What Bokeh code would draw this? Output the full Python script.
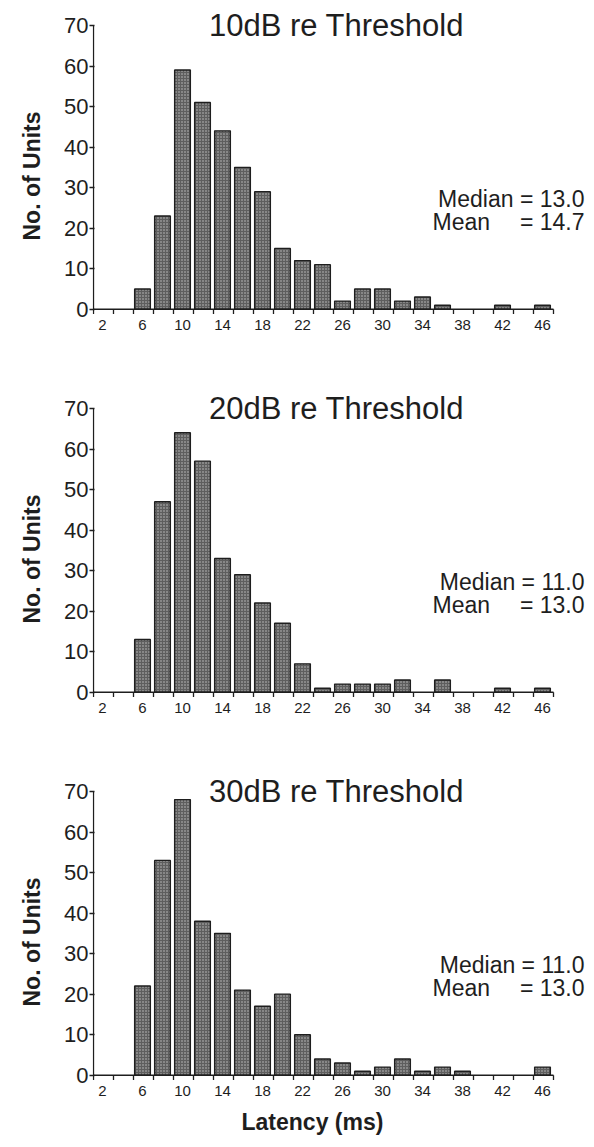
from bokeh.plotting import figure
from bokeh.models import FixedTicker, Label, Range1d, Title
from bokeh.layouts import column
from bokeh.embed import file_html
from bokeh.resources import INLINE

# ---- data ----
latency_bins = [2, 4, 6, 8, 10, 12, 14, 16, 18, 20, 22, 24, 26, 28, 30, 32, 34, 36, 38, 40, 42, 44, 46]
units_10db = [0, 0, 5, 23, 59, 51, 44, 35, 29, 15, 12, 11, 2, 5, 5, 2, 3, 1, 0, 0, 1, 0, 1]
units_20db = [0, 0, 13, 47, 64, 57, 33, 29, 22, 17, 7, 1, 2, 2, 2, 3, 0, 3, 0, 0, 1, 0, 1]
units_30db = [0, 0, 22, 53, 68, 38, 35, 21, 17, 20, 10, 4, 3, 1, 2, 4, 1, 2, 1, 0, 0, 0, 2]
titles = ["10dB re Threshold", "20dB re Threshold", "30dB re Threshold"]
medians = ["13.0", "11.0", "11.0"]
means = ["14.7", "13.0", "13.0"]
x_tick_labels = [2, 6, 10, 14, 18, 22, 26, 30, 34, 38, 42, 46]
y_ticks = [0, 10, 20, 30, 40, 50, 60, 70]

FONT = "Liberation Sans"
INK = "#1e1e1e"

series = [units_10db, units_20db, units_30db]
edge_offset = 1.1
edges = [latency_bins[0] - 0.9] + [b + edge_offset for b in latency_bins]

figs = []
for i, (vals, title, med, mn) in enumerate(zip(series, titles, medians, means)):
    last = i == 2
    p = figure(frame_width=497, frame_height=302, output_backend="svg", toolbar_location=None,
               x_range=Range1d(edges[0] - 0.1, 50.7), y_range=Range1d(-1.3, 73.2),
               min_border_left=91, min_border_right=6, min_border_top=12,
               min_border_bottom=67 if last else 69)
    p.outline_line_color = None
    p.xgrid.visible = False
    p.ygrid.visible = False
    p.background_fill_color = "white"
    p.border_fill_color = "white"

    xs = [b for b, v in zip(latency_bins, vals) if v > 0]
    ys = [v for v in vals if v > 0]
    p.vbar(x=xs, top=ys, bottom=0, width=1.57, fill_color="#5e5e5e",
           line_color=INK, line_width=1.4,
           hatch_pattern="dot", hatch_color="#c4c4c4", hatch_scale=3.0, hatch_weight=1.2)

    # axis lines and bin-edge ticks
    p.line(x=[edges[0], edges[-1]], y=[0, 0], line_color=INK, line_width=1.3)
    p.line(x=[edges[0], edges[0]], y=[-1.2, y_ticks[-1]], line_color=INK, line_width=1.3)
    p.segment(x0=edges[1:], y0=[0] * (len(edges) - 1), x1=edges[1:], y1=[-1.2] * (len(edges) - 1),
              line_color=INK, line_width=1.3)

    # y axis
    ya = p.yaxis[0]
    ya.ticker = FixedTicker(ticks=y_ticks)
    ya.major_tick_out = 3
    ya.major_tick_in = 2
    ya.minor_tick_out = 0
    ya.minor_tick_in = 0
    ya.axis_line_color = None
    ya.major_tick_line_color = INK
    ya.major_tick_line_width = 1.3
    ya.major_label_text_font = FONT
    ya.major_label_text_font_size = "22px"
    ya.major_label_text_color = INK
    ya.major_label_standoff = 1
    p.add_layout(Title(text="No. of Units", text_font=FONT, text_font_size="23px",
                       text_font_style="bold", text_color=INK, align="left",
                       offset=74, standoff=33), "left")

    # x axis: labels only
    xa = p.xaxis[0]
    xa.ticker = FixedTicker(ticks=x_tick_labels)
    xa.axis_line_color = None
    xa.major_tick_out = 0
    xa.major_tick_in = 0
    xa.minor_tick_out = 0
    xa.minor_tick_in = 0
    xa.major_label_text_font = FONT
    xa.major_label_text_font_size = "15px"
    xa.major_label_text_color = INK
    xa.major_label_standoff = 5

    p.add_layout(Label(x=25.4, y=70, text=title, text_font=FONT, text_font_size="31px",
                       text_color=INK, text_align="center", text_baseline="middle"))
    p.add_layout(Label(x=50.2, y=27.2, text="Median = " + med, text_font=FONT,
                       text_font_size="23px", text_color=INK, text_align="right",
                       text_baseline="alphabetic"))
    p.add_layout(Label(x=35.0, y=21.4, text="Mean", text_font=FONT,
                       text_font_size="23px", text_color=INK, text_align="left",
                       text_baseline="alphabetic"))
    p.add_layout(Label(x=50.2, y=21.4, text="= " + mn, text_font=FONT,
                       text_font_size="23px", text_color=INK, text_align="right",
                       text_baseline="alphabetic"))
    if last:
        p.add_layout(Title(text="Latency (ms)", text_font=FONT, text_font_size="23px",
                           text_font_style="bold", text_color=INK, align="left",
                           offset=149, standoff=16), "below")
    figs.append(p)

layout = column(*figs, spacing=0)
open("out.html", "w").write(file_html(layout, INLINE))
